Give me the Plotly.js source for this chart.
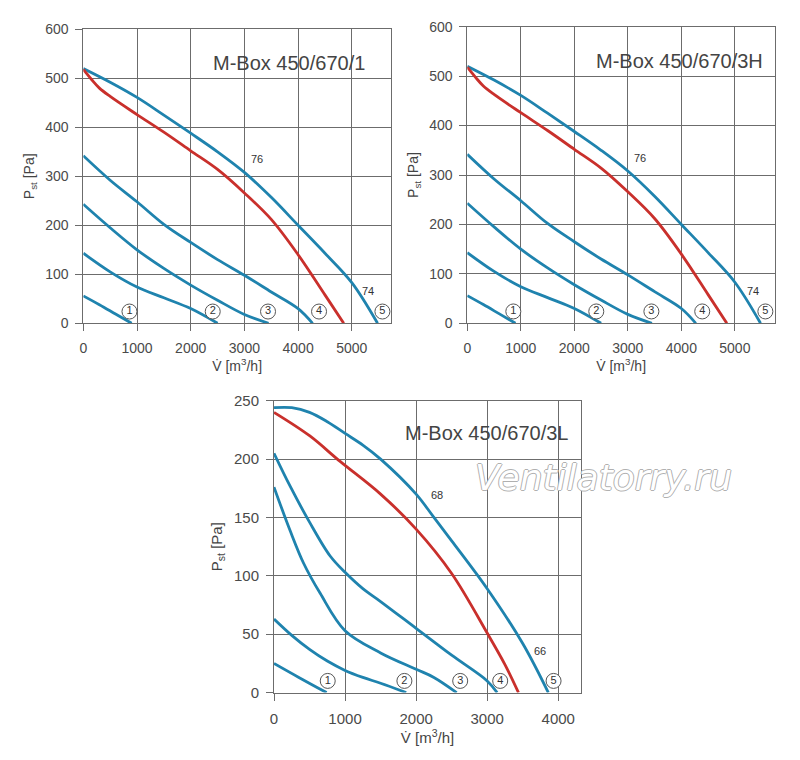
<!DOCTYPE html>
<html><head><meta charset="utf-8">
<script src="https://cdn.plot.ly/plotly-3.0.1.min.js"></script>
<style>html,body{margin:0;padding:0;background:#fff}#chart{width:800px;height:760px}</style>
</head><body><div id="chart"></div>
<script>
// ---- Data: top charts (M-Box 450/670/1 and M-Box 450/670/3H show the same curves) ----
const topV1 = [0, 300, 600, 900];
const topP1 = [56, 38, 19, 0];
const topV2 = [0, 500, 1000, 1500, 2000, 2500];
const topP2 = [143, 105, 74, 52, 30, 0];
const topV3 = [0, 500, 1000, 1500, 2000, 2500, 3000, 3450];
const topP3 = [243, 195, 150, 112, 78, 47, 18, 0];
const topV4 = [0, 500, 1000, 1500, 2000, 2500, 3000, 3500, 4000, 4270];
const topP4 = [342, 292, 248, 202, 165, 130, 98, 64, 30, 0];
const topVRed = [0, 150, 300, 500, 1000, 1500, 2000, 2500, 3000, 3500, 4000, 4500, 4850];
const topPRed = [518, 498, 480, 463, 426, 390, 352, 314, 266, 212, 140, 58, 0];
const topV5 = [0, 500, 1000, 1500, 2000, 2500, 3000, 3500, 4000, 4500, 5000, 5480];
const topP5 = [520, 492, 461, 425, 388, 350, 308, 257, 200, 143, 83, 0];
const topNumV = [860, 2410, 3440, 4390, 5570];
const topNumP = [24, 24, 24, 24, 24];

// ---- Data: bottom chart (M-Box 450/670/3L) ----
const botV1 = [0, 350, 740];
const botP1 = [25, 13, 0];
const botV2 = [0, 250, 500, 750, 1000, 1250, 1500, 1860];
const botP2 = [63, 49, 37, 27, 19, 13, 8, 0];
const botV3 = [0, 225, 415, 650, 1000, 1500, 2000, 2250, 2570];
const botP3 = [176, 139, 111, 85, 53, 34, 20, 13, 0];
const botV4 = [0, 225, 500, 790, 1000, 1250, 1500, 2000, 2500, 3000, 3140];
const botP4 = [205, 177, 146, 117, 103, 89, 78, 55, 32, 10, 0];
const botVRed = [0, 500, 930, 1500, 2000, 2500, 3000, 3250, 3440];
const botPRed = [240, 220, 198, 170, 140, 102, 51, 24, 0];
const botV5 = [0, 250, 500, 750, 1000, 1250, 1500, 2000, 2250, 2500, 3000, 3500, 3860];
const botP5 = [244, 244, 240, 232, 222, 212, 200, 170, 150, 130, 89, 42, 0];
const botNumV = [756, 1835, 2620, 3183, 3934];
const botNumP = [10, 10, 10, 10, 10];

const curveNumbers = ['1', '2', '3', '4', '5'];
const titles = ['M-Box 450/670/1', 'M-Box 450/670/3H', 'M-Box 450/670/3L'];
const xTicks = { top: [0, 1000, 2000, 3000, 4000, 5000], bottom: [0, 1000, 2000, 3000, 4000] };

// ---- Styling ----
const BLUE = '#1f83ae', RED = '#c9302c', GRID = '#6c6c6c';
const FONT = 'Liberation Sans, Arial, sans-serif';

function line(x, y, color, xa, ya) {
  return { type: 'scatter', mode: 'lines', x: x, y: y, xaxis: xa, yaxis: ya,
    line: { color: color, width: 2.8, shape: 'spline', smoothing: 1 },
    hoverinfo: 'skip', showlegend: false };
}
function nums(x, y, xa, ya) {
  return { type: 'scatter', mode: 'markers+text', x: x, y: y, xaxis: xa, yaxis: ya,
    text: curveNumbers, textposition: 'middle center',
    textfont: { family: FONT, size: 11, color: '#333' },
    marker: { symbol: 'circle', size: 15, color: '#ffffff', line: { color: '#555', width: 1 } },
    cliponaxis: false, hoverinfo: 'skip', showlegend: false };
}
function topSet(xa, ya) {
  return [
    line(topV1, topP1, BLUE, xa, ya), line(topV2, topP2, BLUE, xa, ya),
    line(topV3, topP3, BLUE, xa, ya), line(topV4, topP4, BLUE, xa, ya),
    line(topV5, topP5, BLUE, xa, ya), line(topVRed, topPRed, RED, xa, ya),
    nums(topNumV, topNumP, xa, ya)
  ];
}
const data = [].concat(
  topSet('x', 'y'), topSet('x2', 'y2'),
  [line(botV1, botP1, BLUE, 'x3', 'y3'), line(botV2, botP2, BLUE, 'x3', 'y3'),
   line(botV3, botP3, BLUE, 'x3', 'y3'), line(botV4, botP4, BLUE, 'x3', 'y3'),
   line(botV5, botP5, BLUE, 'x3', 'y3'), line(botVRed, botPRed, RED, 'x3', 'y3'),
   nums(botNumV, botNumP, 'x3', 'y3')]
);

function axBase(size) {
  return { showgrid: true, gridcolor: GRID, gridwidth: 1, showline: true, linecolor: GRID, linewidth: 1,
    mirror: true, ticks: 'outside', ticklen: 7, tickcolor: GRID, tickwidth: 1, zeroline: false,
    tickfont: { family: FONT, size: size, color: '#4a4a4a' }, fixedrange: true };
}
function xAx(dom, range, anchor, vals, size) {
  return Object.assign(axBase(size), { domain: dom, range: range, anchor: anchor,
    tickmode: 'array', tickvals: vals, ticklabelstandoff: 5,
    title: { text: 'V\u0307 [m<sup>3</sup>/h]', font: { family: FONT, size: size, color: '#444' }, standoff: 2 } });
}
function yAx(dom, range, anchor, dt, size) {
  return Object.assign(axBase(size), { domain: dom, range: range, anchor: anchor, dtick: dt, tick0: 0,
    ticklabelstandoff: 4,
    title: { text: 'P<sub>st</sub> [Pa]', font: { family: FONT, size: size, color: '#444' }, standoff: 7 } });
}
const W = 800, H = 760;
const layout = {
  width: W, height: H, margin: { l: 0, r: 0, t: 0, b: 0 },
  paper_bgcolor: '#fff', plot_bgcolor: '#fff', showlegend: false,
  font: { family: FONT },
  xaxis: xAx([83.3 / W, 391 / W], [0, 5730], 'y', xTicks.top, 14),
  yaxis: yAx([1 - 323.3 / H, 1 - 29.3 / H], [0, 600], 'x', 100, 14),
  xaxis2: xAx([467.3 / W, 775 / W], [0, 5750], 'y2', xTicks.top, 14),
  yaxis2: yAx([1 - 323.3 / H, 1 - 26.7 / H], [0, 600], 'x2', 100, 14),
  xaxis3: xAx([274 / W, 581 / W], [0, 4320], 'y3', xTicks.bottom, 15),
  yaxis3: yAx([1 - 692.6 / H, 1 - 400.7 / H], [0, 250], 'x3', 50, 15),
  annotations: [
    { xref: 'paper', yref: 'paper', x: 367 / W, y: 1 - 63 / H, xanchor: 'right', yanchor: 'middle',
      text: titles[0], showarrow: false, font: { family: FONT, size: 20, color: '#444' } },
    { xref: 'paper', yref: 'paper', x: 765 / W, y: 1 - 61 / H, xanchor: 'right', yanchor: 'middle',
      text: titles[1], showarrow: false, font: { family: FONT, size: 20, color: '#444' } },
    { xref: 'paper', yref: 'paper', x: 570 / W, y: 1 - 433 / H, xanchor: 'right', yanchor: 'middle',
      text: titles[2], showarrow: false, font: { family: FONT, size: 20, color: '#444' } },
    { xref: 'x', yref: 'y', x: 3235, y: 335, text: '76', showarrow: false, font: { family: FONT, size: 11, color: '#333' } },
    { xref: 'x', yref: 'y', x: 5300, y: 66, text: '74', showarrow: false, font: { family: FONT, size: 11, color: '#333' } },
    { xref: 'x2', yref: 'y2', x: 3228, y: 334, text: '76', showarrow: false, font: { family: FONT, size: 11, color: '#333' } },
    { xref: 'x2', yref: 'y2', x: 5336, y: 65, text: '74', showarrow: false, font: { family: FONT, size: 11, color: '#333' } },
    { xref: 'x3', yref: 'y3', x: 2292, y: 169, text: '68', showarrow: false, font: { family: FONT, size: 11, color: '#333' } },
    { xref: 'x3', yref: 'y3', x: 3737, y: 36, text: '66', showarrow: false, font: { family: FONT, size: 11, color: '#333' } },
    { xref: 'paper', yref: 'paper', x: 603 / W, y: 1 - 478 / H, xanchor: 'center', yanchor: 'middle',
      text: '<i>Ventilatorry.ru</i>', showarrow: false,
      font: { family: 'DejaVu Sans, sans-serif', size: 36, color: '#ffffff',
        shadow: '1px 0 0 #b0b0b0, -1px 0 0 #b0b0b0, 0 1px 0 #b0b0b0, 0 -1px 0 #b0b0b0' } }
  ]
};
Plotly.newPlot('chart', data, layout, { staticPlot: true, displayModeBar: false });
</script></body></html>
